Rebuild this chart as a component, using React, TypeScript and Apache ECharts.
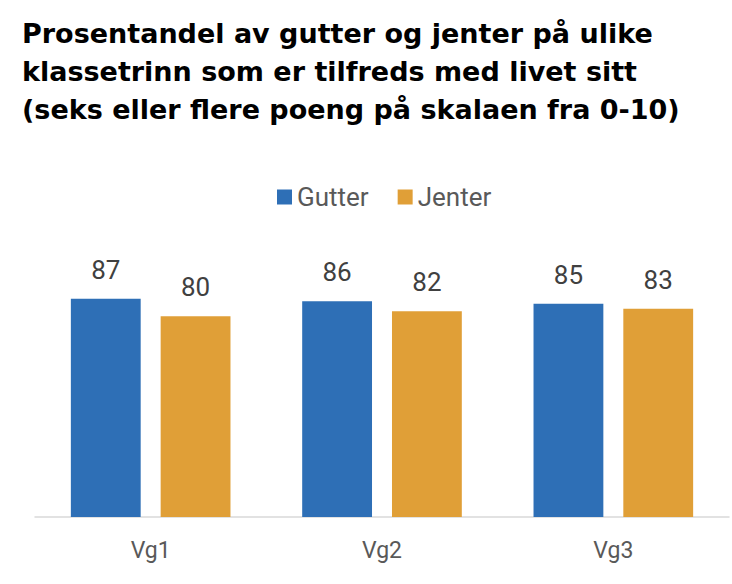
import React, { useEffect, useRef } from "react";
import * as echarts from "echarts";

const categories = ["Vg1", "Vg2", "Vg3"];
const gutter = [87, 86, 85];
const jenter = [80, 82, 83];
const titleLines = [
  "Prosentandel av gutter og jenter på ulike",
  "klassetrinn som er tilfreds med livet sitt",
  "(seks eller flere poeng på skalaen fra 0-10)",
];

export default function App() {
  const ref = useRef<HTMLDivElement>(null);
  useEffect(() => {
    document.body.style.margin = "0";
    if (!ref.current) return;
    const chart = echarts.init(ref.current, undefined, { renderer: "svg" });
    const labelStyle = {
      show: true,
      position: "top" as const,
      distance: 16,
      color: "#404040",
      fontSize: 26,
      fontFamily: "Roboto",
    };
    chart.setOption({
      animation: false,
      backgroundColor: "#ffffff",
      title: {
        text: titleLines.join("\n"),
        left: 17,
        top: 9,
        textStyle: {
          fontFamily: "DejaVu Sans",
          fontWeight: "bold",
          fontSize: 27,
          lineHeight: 38,
          color: "#000000",
        },
      },
      legend: {
        top: 179,
        left: 272,
        itemWidth: 15,
        itemHeight: 15,
        itemGap: 29,
        icon: "rect",
        textStyle: { fontFamily: "Roboto", fontSize: 26, color: "#595959" },
        data: ["Gutter", "Jenter"],
      },
      grid: { left: 35, right: 3, top: 266, bottom: 67 },
      xAxis: {
        type: "category",
        data: categories,
        axisLine: { lineStyle: { color: "#d9d9d9", width: 1.5 } },
        axisTick: { show: false },
        axisLabel: { margin: 22, fontFamily: "Roboto", fontSize: 23, color: "#595959" },
      },
      yAxis: {
        type: "value",
        min: 0,
        max: 100,
        show: false,
        splitLine: { show: false },
      },
      series: [
        {
          name: "Gutter",
          type: "bar",
          data: gutter,
          itemStyle: { color: "#2E6FB6" },
          barGap: "28.6%",
          barCategoryGap: "31%",
          label: labelStyle,
        },
        {
          name: "Jenter",
          type: "bar",
          data: jenter,
          itemStyle: { color: "#E09F37" },
          label: labelStyle,
        },
      ],
    });
    return () => chart.dispose();
  }, []);
  return <div ref={ref} style={{ width: 732, height: 584 }} />;
}
